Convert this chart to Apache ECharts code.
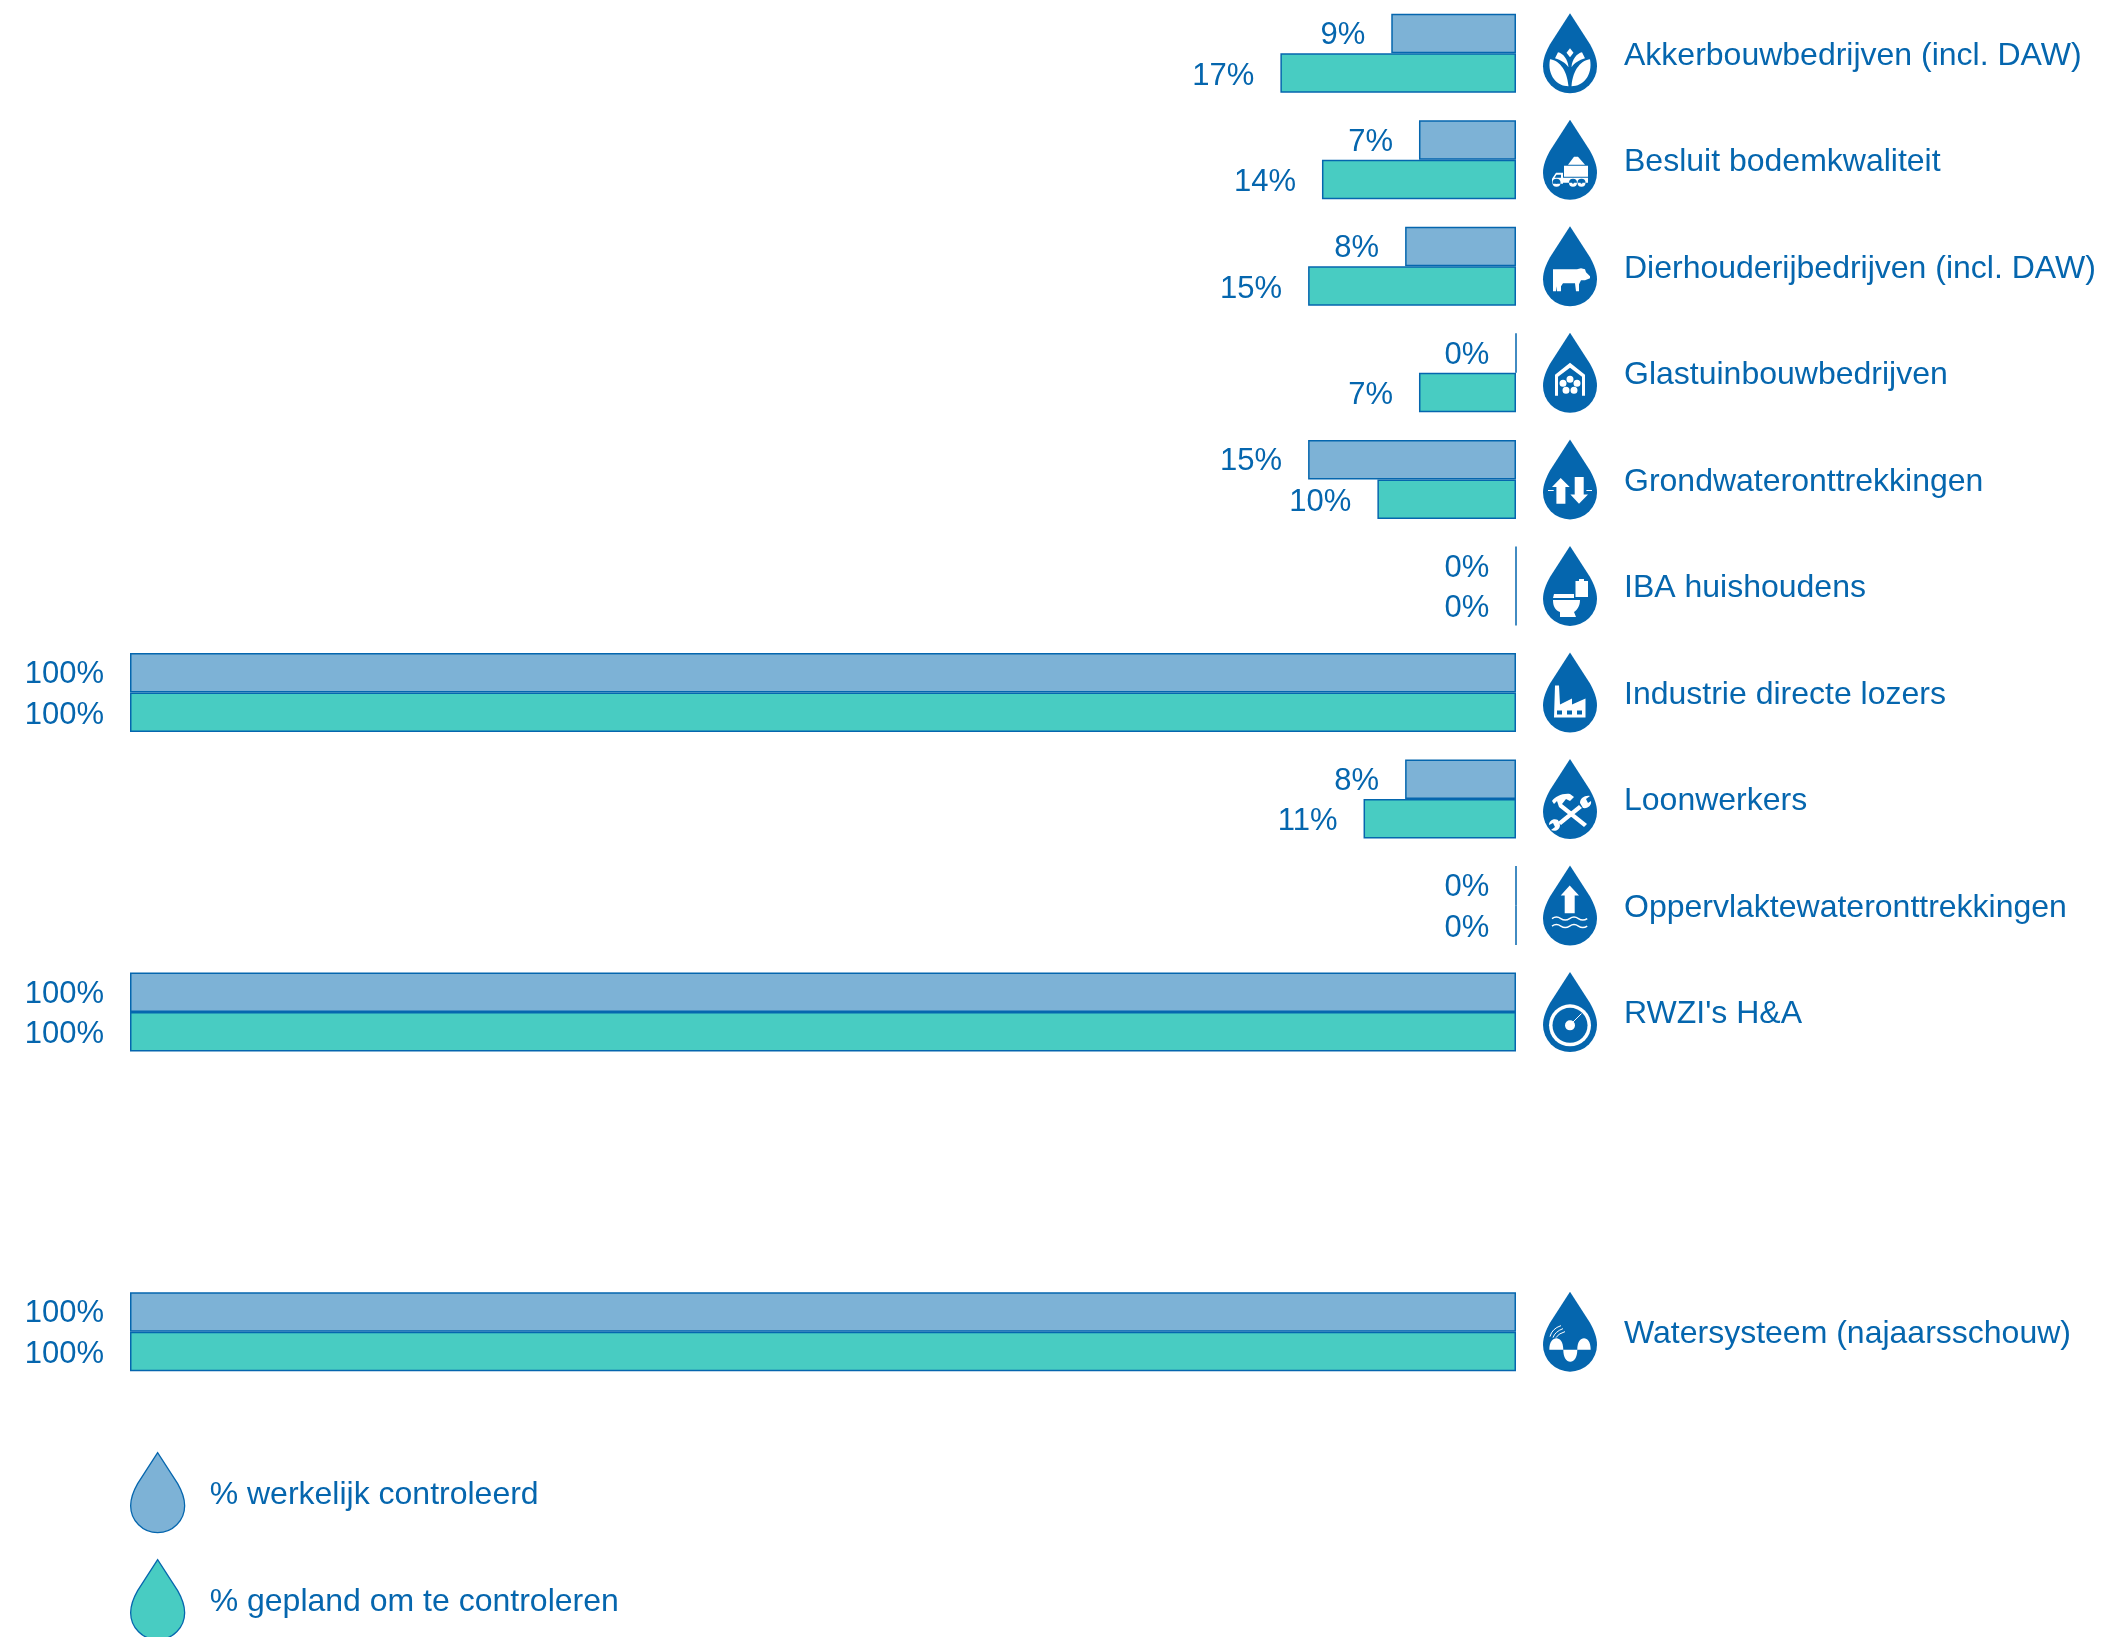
<!DOCTYPE html>
<html>
<head>
<meta charset="utf-8">
<title>Controles</title>
<style>
html,body{margin:0;padding:0;background:#fff;}
#chart{width:2106px;height:1637px;}
</style>
<script src="https://cdn.jsdelivr.net/npm/echarts@6/dist/echarts.min.js"></script>
</head>
<body>
<div id="chart"></div>
<script>
	//categorieen, de twee lege regels zijn het gat boven Watersysteem
	const categories = ['Akkerbouwbedrijven (incl. DAW)','Besluit bodemkwaliteit','Dierhouderijbedrijven (incl. DAW)','Glastuinbouwbedrijven','Grondwateronttrekkingen','IBA huishoudens','Industrie directe lozers','Loonwerkers','Oppervlaktewateronttrekkingen',"RWZI's H&A",'',' ','Watersysteem (najaarsschouw)'];
	const werkelijk = [9,7,8,0,15,0,100,8,0,100,null,null,100];
	const gepland = [17,14,15,7,10,0,100,11,0,100,null,null,100];
	const iconNames = ['plant','truck','cow','house','arrows','toilet','factory','tools','water','gauge',null,null,'system'];
	const seriesNames = ['% werkelijk controleerd','% gepland om te controleren'];

	const BLUE = '#0566ae', LIGHT = '#7db2d6', TEAL = '#48ccc2';
	const FONT = '"Liberation Sans", Arial, sans-serif';
	const DROP = 'M27 0L7 31C3 38 0 46 0 53A27 27 0 0 0 54 53C54 46 51 38 47 31Z';

	//pictogrammen in een vak van 54x80: wit vlak, blauwe details, witte lijnen
	const glyphs = {
		plant: {
			white: 'M7 46C15 47 24 55 25.5 73C14 73 4 62 7 46ZM47 46C39 47 30 55 28.5 73C40 73 50 62 47 46ZM15 39C20 40 25 46 25.5 54C22 49 18 47 12 45ZM39 39C34 40 29 46 28.5 54C32 49 36 47 42 45ZM27 35L30.5 39.5L27 44L23.5 39.5Z'
		},
		truck: {
			white: 'M21 46H45V57H21ZM25 45L31 37H35L42 45ZM9 64V59L13 53H20V64ZM20 58H45V63H20ZM9.5 63a4 4 0 1 0 8 0a4 4 0 1 0 -8 0ZM26 63a4 4 0 1 0 8 0a4 4 0 1 0 -8 0ZM34.5 63a4 4 0 1 0 8 0a4 4 0 1 0 -8 0Z',
			blue: 'M12.5 63a1 1 0 1 0 2 0a1 1 0 1 0 -2 0ZM29 63a1 1 0 1 0 2 0a1 1 0 1 0 -2 0ZM37.5 63a1 1 0 1 0 2 0a1 1 0 1 0 -2 0ZM13.5 55H18V58H11.5Z'
		},
		cow: {
			white: 'M10 43L34 43L38 42L42 43L43 46L47 50L47 52L42 54L38 54L36 58L36 65L33 65L32 57L20 57L18 60L18 65L14 65L14 60L13 65L10 65Z'
		},
		house: {
			white: 'M12 42L27 30L42 42V63H39V44L27 35L15 44V63H12ZM23.500 46.500a3.500 3.500 0 1 0 7 0a3.500 3.500 0 1 0 -7 0ZM16.500 50.500a3.500 3.500 0 1 0 7 0a3.500 3.500 0 1 0 -7 0ZM30.500 50.500a3.500 3.500 0 1 0 7 0a3.500 3.500 0 1 0 -7 0ZM19.500 57.500a3.500 3.500 0 1 0 7 0a3.500 3.500 0 1 0 -7 0ZM27.500 57.500a3.500 3.500 0 1 0 7 0a3.500 3.500 0 1 0 -7 0Z'
		},
		arrows: {
			white: 'M17.700 38.500L26.700 47.700H22.400V64.300H13.400V47.700H9ZM31.700 37.700H40.700V55H45L36 64.300L27.400 55H31.700ZM5 50.500H10.700V51.500H5ZM43.400 50.500H49V51.500H43.400Z'
		},
		toilet: {
			white: 'M32.500 35H36V33H41V35H45V51H32.500ZM11 48H31V52H10ZM10 54H37C37 60 34 64 31 66L33 71H17V66C12 64 10 60 10 54Z'
		},
		factory: {
			white: 'M12 33H16L17 52L29 46V52L42.500 46V65H11Z',
			blue: 'M14 58H19V62H14ZM24 58H29V62H24ZM34 58H39V62H34Z'
		},
		tools: {
			white: 'M9 42C12 38 19 34 27 35L31 38L27 42L23 40L19 45L44 65L41 68L16 48L14 42L11 45ZM36 46L39 49L18 66L15 63ZM37 44C37 39 42 36 47 37L43 40L45 44L48 42C49 46 45 50 40 49ZM17 66C17 71 12 73 8 71L12 68L10 64L6 66C6 62 10 59 15 61Z'
		},
		water: {
			white: 'M26.700 20L36 30H31.700V47.700H21.700V30H17.700Z',
			line: 'M9 53q4.400 -3 8.800 0t8.800 0t8.800 0t8.800 0M9 60.500q4.400 -3 8.800 0t8.800 0t8.800 0t8.800 0',
			lineWidth: 1.5
		},
		gauge: {
			white: 'M6 53.300a21 21 0 1 0 42 0a21 21 0 1 0 -42 0Z',
			blue: 'M9.500 53.300a17.500 17.500 0 1 0 35 0a17.500 17.500 0 1 0 -35 0Z',
			top: 'M22 53.300a5 5 0 1 0 10 0a5 5 0 1 0 -10 0Z',
			line: 'M27 53L38.500 41.500',
			lineWidth: 1
		},
		system: {
			white: 'M6.300 58C6.300 50 10 46.500 13.300 46.500C17 46.500 20.300 50 20.300 58ZM34.300 58C34.300 50 37.500 46.500 41 46.500C44.500 46.500 47.700 50 47.700 58ZM20.300 58H34.300C34.300 66 31 70 27.300 70C23.500 70 20.300 66 20.300 58Z',
			line: 'M7 45Q9 37 18 34M10 46Q12 40 20 37M13 46Q15 42 22 40',
			lineWidth: 1
		}
	};

	//druppel met pictogram, rechts naast de balken
	function renderIcon(params, api){
		let idx = api.value(1);
		let g = glyphs[iconNames[idx]];
		let pt = api.coord([0, idx]);
		let children = [{type:'path', shape:{pathData:DROP}, style:{fill:BLUE}}];
		if(g.white) children.push({type:'path', shape:{pathData:g.white}, style:{fill:'#fff'}});
		if(g.blue) children.push({type:'path', shape:{pathData:g.blue}, style:{fill:BLUE}});
		if(g.top) children.push({type:'path', shape:{pathData:g.top}, style:{fill:'#fff'}});
		if(g.line) children.push({type:'path', shape:{pathData:g.line}, style:{fill:null, stroke:'#fff', lineWidth:g.lineWidth}});
		return {type:'group', x:pt[0]+27, y:pt[1]-40, children:children};
	}

	const iconData = [];
	iconNames.forEach((name, i) => {
		if(name) iconData.push([0, i]);
	});

	function barSeries(name, data, color, offsetY){
		return {
			name: name,
			type: 'bar',
			data: data,
			barWidth: 39.5,
			barGap: 0,
			clip: false,
			itemStyle: {color:color, borderColor:BLUE, borderWidth:1.5},
			label: {
				show: true,
				position: 'left',
				distance: 26,
				offset: [0, offsetY],
				formatter: '{c}%',
				color: BLUE,
				fontFamily: FONT,
				fontSize: 31
			}
		};
	}

	//een legenda per regel, anders loopt de tweede buiten de hoogte en springt hij opzij
	function legendItem(name, top){
		return {
			left: 130,
			top: top,
			padding: 0,
			itemWidth: 54,
			itemHeight: 80,
			selectedMode: false,
			itemStyle: {borderWidth:1.3},
			data: [{name:name, icon:'path://'+DROP}],
			formatter: '{t|{name}}',
			textStyle: {
				rich: {t:{color:BLUE, fontFamily:FONT, fontSize:32, padding:[6,0,0,20]}}
			}
		};
	}

	const chart = echarts.init(document.getElementById('chart'));
	chart.setOption({
		animation: false,
		backgroundColor: '#fff',
		legend: [legendItem(seriesNames[0], 1452), legendItem(seriesNames[1], 1559)],
		grid: {left:130, right:590, top:-1.9, height:1386.8},
		xAxis: {
			type: 'value',
			inverse: true,
			min: 0,
			max: 100,
			show: false
		},
		yAxis: {
			type: 'category',
			inverse: true,
			position: 'right',
			data: categories,
			axisLine: {show:false},
			axisTick: {show:false},
			axisLabel: {
				margin: 108,
				interval: 0,
				align: 'left',
				formatter: value => '{t|' + value + '}',
				rich: {t:{color:BLUE, fontFamily:FONT, fontSize:32, padding:[5,0,0,0]}}
			}
		},
		series: [
			barSeries(seriesNames[0], werkelijk, LIGHT, 2),
			barSeries(seriesNames[1], gepland, TEAL, 3),
			{
				type: 'custom',
				renderItem: renderIcon,
				data: iconData,
				encode: {x:0, y:1},
				silent: true,
				clip: false,
				z: 5
			}
		]
	});
</script>
</body>
</html>
